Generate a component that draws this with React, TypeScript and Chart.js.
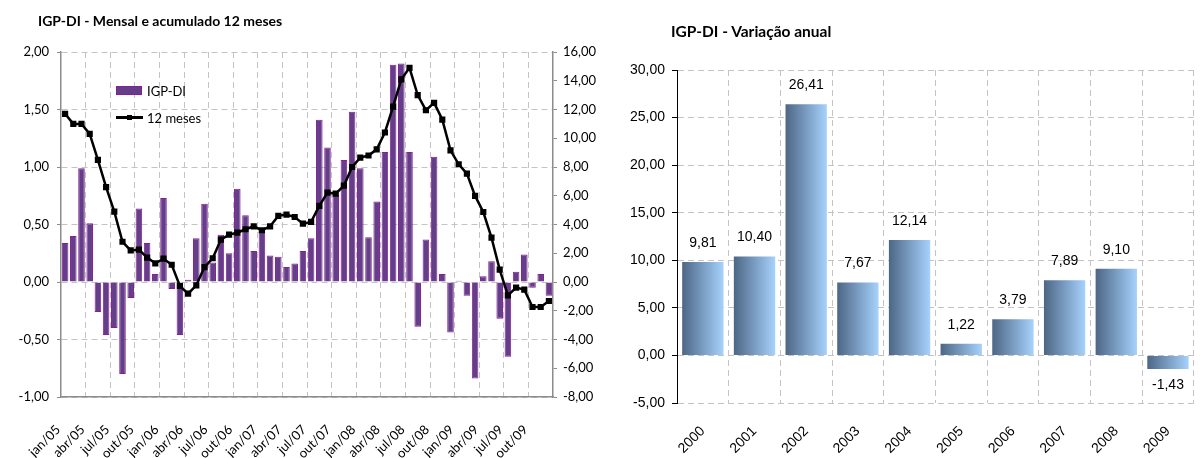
import React, { useEffect, useRef } from 'react';
import { Chart, registerables } from 'chart.js';
Chart.register(...registerables);

// ---- Left chart data ----
const monthLabels = [
  'jan/05','fev/05','mar/05','abr/05','mai/05','jun/05','jul/05','ago/05','set/05','out/05','nov/05','dez/05',
  'jan/06','fev/06','mar/06','abr/06','mai/06','jun/06','jul/06','ago/06','set/06','out/06','nov/06','dez/06',
  'jan/07','fev/07','mar/07','abr/07','mai/07','jun/07','jul/07','ago/07','set/07','out/07','nov/07','dez/07',
  'jan/08','fev/08','mar/08','abr/08','mai/08','jun/08','jul/08','ago/08','set/08','out/08','nov/08','dez/08',
  'jan/09','fev/09','mar/09','abr/09','mai/09','jun/09','jul/09','ago/09','set/09','out/09','nov/09','dez/09',
];
const igpMensal = [
  0.34, 0.40, 0.99, 0.51, -0.26, -0.46, -0.40, -0.80, -0.14, 0.64, 0.34, 0.07,
  0.73, -0.06, -0.46, 0.02, 0.38, 0.68, 0.17, 0.41, 0.25, 0.81, 0.58, 0.27,
  0.44, 0.23, 0.22, 0.13, 0.16, 0.27, 0.38, 1.41, 1.17, 0.76, 1.06, 1.48,
  0.99, 0.39, 0.70, 1.13, 1.89, 1.90, 1.13, -0.39, 0.37, 1.09, 0.07, -0.44,
  0.01, -0.12, -0.84, 0.05, 0.18, -0.32, -0.65, 0.09, 0.24, -0.05, 0.07, -0.12,
];
const acum12m = [
  11.7, 11.0, 11.0, 10.3, 8.5, 6.6, 4.9, 2.8, 2.2, 2.25, 1.7, 1.3,
  1.62, 1.2, -0.28, -0.81, -0.23, 1.04, 1.65, 2.95, 3.3, 3.43, 3.67, 3.87,
  3.6, 3.87, 4.6, 4.69, 4.52, 4.06, 4.18, 5.29, 6.22, 6.15, 6.7, 8.0,
  8.65, 8.8, 9.23, 10.4, 12.2, 14.1, 14.9, 13.0, 11.95, 12.46, 11.3, 9.16,
  8.19, 7.54, 5.99, 4.87, 3.09, 0.86, -0.93, -0.39, -0.53, -1.74, -1.74, -1.32,
];

// ---- Right chart data ----
const anos = ['2000','2001','2002','2003','2004','2005','2006','2007','2008','2009'];
const variacaoAnual = [9.81, 10.40, 26.41, 7.67, 12.14, 1.22, 3.79, 7.89, 9.10, -1.43];

const fmt = (v: number) => Number(v).toFixed(2).replace('.', ',');

const LEFT_FONT = 'Lato, "Open Sans", sans-serif';
const RIGHT_FONT = '"Liberation Sans", Arial, sans-serif';

const BAR_FILL = '#633f8a';
const BAR_BORDER = '#8a1d96';

const barLabelPlugin = {
  id: 'barLabels',
  afterDatasetsDraw(chart: any) {
    const ctx = chart.ctx;
    const meta = chart.getDatasetMeta(0);
    const data = chart.data.datasets[0].data as number[];
    ctx.save();
    ctx.font = `14px ${RIGHT_FONT}`;
    ctx.fillStyle = '#000';
    ctx.textAlign = 'center';
    ctx.textBaseline = 'middle';
    meta.data.forEach((bar: any, i: number) => {
      const v = data[i];
      const y = v >= 0 ? bar.y - 19 : bar.y + 16;
      ctx.fillText(fmt(v), bar.x, y);
    });
    ctx.restore();
  },
};

function LeftChart() {
  const ref = useRef<HTMLCanvasElement>(null);
  useEffect(() => {
    const gridCol = '#c4c4c4';
    const chart = new Chart(ref.current!, {
      type: 'bar',
      data: {
        labels: monthLabels,
        datasets: [
          {
            type: 'line',
            label: '12 meses',
            data: acum12m,
            yAxisID: 'y1',
            borderColor: '#000',
            backgroundColor: '#000',
            borderWidth: 2.5,
            pointStyle: 'rect',
            pointRadius: 2.6,
            pointBackgroundColor: '#000',
            pointBorderColor: '#000',
            tension: 0,
            order: 0,
          } as any,
          {
            type: 'bar',
            label: 'IGP-DI',
            data: igpMensal,
            yAxisID: 'y',
            backgroundColor: BAR_FILL,
            borderColor: BAR_BORDER,
            borderWidth: 1,
            barPercentage: 0.8,
            categoryPercentage: 1,
            order: 1,
          } as any,
        ],
      },
      options: {
        responsive: false,
        animation: false,
        layout: { padding: { top: 52, left: 0, right: 0, bottom: 0 } },
        plugins: { legend: { display: false }, tooltip: { enabled: false }, title: { display: false } },
        scales: {
          x: {
            offset: true,
            grid: {
              offset: true,
              color: (c: any) => (c.index % 3 === 0 ? gridCol : 'rgba(0,0,0,0)'),
              drawTicks: false,
            },
            border: { display: true, color: '#8c8c8c', width: 1.5, dash: [6, 4] },
            ticks: {
              autoSkip: false,
              maxRotation: 45,
              minRotation: 45,
              padding: 25,
              labelOffset: -7,
              color: '#000',
              font: { family: LEFT_FONT, size: 13 },
              callback: function (this: any, val: any, index: number) {
                return index % 3 === 0 ? this.getLabelForValue(val) : '';
              },
            },
            afterFit: (s: any) => { s.height = 61; },
          },
          y: {
            position: 'left',
            min: -1,
            max: 2,
            ticks: { stepSize: 0.5, color: '#000', padding: 8, font: { family: LEFT_FONT, size: 13 }, callback: (v: any) => fmt(v) },
            grid: { color: gridCol, tickColor: '#8c8c8c', tickLength: 4, tickBorderDash: [] },
            border: { display: true, color: '#8c8c8c', width: 1.5, dash: [6, 4] },
            afterFit: (s: any) => { s.width = 61; },
          },
          y1: {
            position: 'right',
            min: -8,
            max: 16,
            ticks: { stepSize: 2, color: '#000', padding: 6, font: { family: LEFT_FONT, size: 13 }, callback: (v: any) => fmt(v) },
            grid: { drawOnChartArea: false, tickColor: '#8c8c8c', tickLength: 4 },
            border: { display: true, color: '#8c8c8c', width: 1.5 },
            afterFit: (s: any) => { s.width = 47; },
          },
        },
      } as any,
    });
    return () => chart.destroy();
  }, []);
  return <canvas ref={ref} width={600} height={458} style={{ position: 'absolute', left: 0, top: 0 }} />;
}

function RightChart() {
  const ref = useRef<HTMLCanvasElement>(null);
  useEffect(() => {
    const gridCol = '#c4c4c4';
    const chart = new Chart(ref.current!, {
      type: 'bar',
      data: {
        labels: anos,
        datasets: [
          {
            label: 'Variação anual',
            data: variacaoAnual,
            backgroundColor: (c: any) => {
              const ch = c.chart;
              const xs = ch.scales && ch.scales.x;
              if (!xs || !ch.chartArea) return '#7fa3cc';
              const cx = xs.getPixelForValue(c.dataIndex);
              const w = (ch.chartArea.right - ch.chartArea.left) / anos.length * 0.8;
              const g = ch.ctx.createLinearGradient(cx - w / 2, 0, cx + w / 2, 0);
              g.addColorStop(0, '#4d6685');
              g.addColorStop(1, '#a6d2fd');
              return g;
            },
            borderWidth: 0,
            barPercentage: 0.8,
            categoryPercentage: 1,
          },
        ],
      },
      options: {
        responsive: false,
        animation: false,
        layout: { padding: { top: 70, left: 0, right: 3, bottom: 0 } },
        plugins: { legend: { display: false }, tooltip: { enabled: false }, title: { display: false } },
        scales: {
          x: {
            offset: true,
            grid: { offset: true, color: gridCol, drawTicks: false },
            border: { display: false, dash: [6, 4] },
            ticks: {
              autoSkip: false,
              maxRotation: 45,
              minRotation: 45,
              padding: 20,
              labelOffset: 0,
              color: '#000',
              font: { family: RIGHT_FONT, size: 14 },
            },
            afterFit: (s: any) => { s.height = 55; },
          },
          y: {
            min: -5,
            max: 30,
            ticks: { stepSize: 5, color: '#000', padding: 7, font: { family: RIGHT_FONT, size: 14 }, callback: (v: any) => fmt(v) },
            grid: { color: gridCol, tickColor: '#000', tickLength: 5, tickBorderDash: [] },
            border: { display: true, color: '#000', width: 1, dash: [6, 4] },
            afterFit: (s: any) => { s.width = 77; },
          },
        },
      } as any,
      plugins: [barLabelPlugin],
    });
    return () => chart.destroy();
  }, []);
  return <canvas ref={ref} width={600} height={458} style={{ position: 'absolute', left: 600, top: 0 }} />;
}

export default function App() {
  return (
    <div style={{ position: 'absolute', left: 0, top: 0, width: 1200, height: 458, background: '#fff', overflow: 'hidden' }}>
      <LeftChart />
      <RightChart />
      <div style={{ position: 'absolute', left: 38, top: 12, font: `bold 14px ${LEFT_FONT}`, color: '#000', whiteSpace: 'nowrap' }}>
        IGP-DI - Mensal e acumulado 12 meses
      </div>
      <div style={{ position: 'absolute', left: 671, top: 22, font: `bold 15.5px ${LEFT_FONT}`, color: '#000', whiteSpace: 'nowrap' }}>
        IGP-DI - Variação anual
      </div>
      {/* legend */}
      <div style={{ position: 'absolute', left: 116, top: 86, width: 26, height: 9, background: BAR_FILL, border: `1px solid ${BAR_BORDER}`, boxSizing: 'border-box' }} />
      <div style={{ position: 'absolute', left: 147, top: 83, font: `13px ${LEFT_FONT}`, color: '#000', whiteSpace: 'nowrap' }}>IGP-DI</div>
      <div style={{ position: 'absolute', left: 116, top: 116, width: 27, height: 2.5, background: '#000' }} />
      <div style={{ position: 'absolute', left: 127, top: 114.5, width: 5, height: 5, background: '#000' }} />
      <div style={{ position: 'absolute', left: 147, top: 110, font: `13px ${LEFT_FONT}`, color: '#000', whiteSpace: 'nowrap' }}>12 meses</div>
    </div>
  );
}
